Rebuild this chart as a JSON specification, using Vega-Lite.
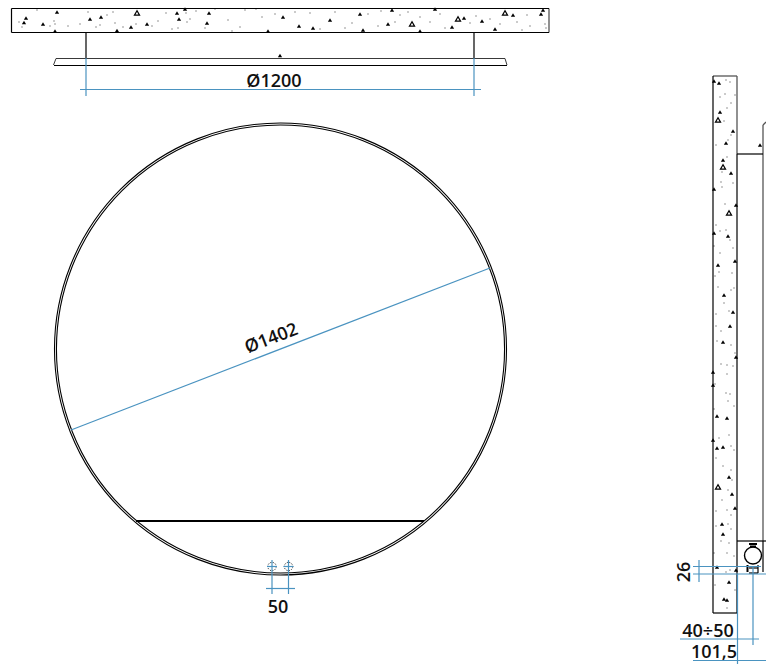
{
"$schema":"https://vega.github.io/schema/vega-lite/v6.json",
"width":766,"height":664,"padding":0,"autosize":{"type":"none"},
"background":"white",
"config":{"view":{"stroke":null}},
"encoding":{
"x":{"field":"x","type":"quantitative","scale":{"domain":[0,766],"range":[0,766],"nice":false,"zero":false},"axis":null},
"y":{"field":"y","type":"quantitative","scale":{"domain":[0,664],"range":[0,664],"nice":false,"zero":false},"axis":null}
},
"datasets":{
"segments":[
{"kind":"black","x":11.5,"y":8.5,"x2":549,"y2":8.5},
{"kind":"black","x":11.5,"y":32.5,"x2":549,"y2":32.5},
{"kind":"black","x":11.5,"y":8.5,"x2":11.5,"y2":32.5},
{"kind":"grey","x":549,"y":8.5,"x2":549,"y2":32.5},
{"kind":"black","x":86,"y":32.5,"x2":86,"y2":58.5},
{"kind":"black","x":474,"y":32.5,"x2":474,"y2":58.5},
{"kind":"thin","x":56,"y":58.5,"x2":505,"y2":58.5},
{"kind":"black","x":54,"y":65.5,"x2":507,"y2":65.5},
{"kind":"thin","x":56,"y":58.5,"x2":53.5,"y2":65},
{"kind":"thin","x":505,"y":58.5,"x2":507,"y2":65},
{"kind":"bold","x":136,"y":521,"x2":424,"y2":521},
{"kind":"black","x":713,"y":76,"x2":713,"y2":613},
{"kind":"black","x":737,"y":154,"x2":737,"y2":613},
{"kind":"grey","x":737,"y":76,"x2":737,"y2":154},
{"kind":"grey","x":713,"y":76,"x2":737,"y2":76},
{"kind":"black","x":713,"y":613,"x2":737,"y2":613},
{"kind":"black","x":737,"y":154,"x2":763,"y2":154},
{"kind":"grey","x":763,"y":125,"x2":763,"y2":541},
{"kind":"grey","x":763,"y":125,"x2":766,"y2":122},
{"kind":"black","x":737,"y":541,"x2":766,"y2":541},
{"kind":"black","x":763,"y":541,"x2":763,"y2":572},
{"kind":"bold","x":749,"y":544,"x2":757,"y2":544},
{"kind":"bold","x":750,"y":546.5,"x2":756,"y2":546.5},
{"kind":"bold","x":747.5,"y":565,"x2":747.5,"y2":572},
{"kind":"black","x":749,"y":568,"x2":758,"y2":568},
{"kind":"black","x":749,"y":573,"x2":758,"y2":573},
{"kind":"black","x":758,"y":565,"x2":758,"y2":573},
{"kind":"blue","x":80,"y":89.5,"x2":481,"y2":89.5},
{"kind":"blue","x":86,"y":58,"x2":86,"y2":96},
{"kind":"blue","x":474,"y":58,"x2":474,"y2":96},
{"kind":"blue","x":71,"y":430,"x2":490,"y2":268},
{"kind":"blue","x":272,"y":560,"x2":272,"y2":594},
{"kind":"blue","x":288.5,"y":560,"x2":288.5,"y2":594},
{"kind":"blue","x":266,"y":588.5,"x2":295,"y2":588.5},
{"kind":"blue","x":267,"y":566.5,"x2":277,"y2":566.5},
{"kind":"blue","x":283.5,"y":566.5,"x2":293.5,"y2":566.5},
{"kind":"blue","x":693,"y":566.5,"x2":761,"y2":566.5},
{"kind":"blue","x":693,"y":574,"x2":766,"y2":574},
{"kind":"blue","x":699,"y":560,"x2":699,"y2":582},
{"kind":"blue","x":737.5,"y":574,"x2":737.5,"y2":664},
{"kind":"blue","x":753,"y":566,"x2":753,"y2":645},
{"kind":"blue","x":680,"y":639,"x2":759,"y2":639},
{"kind":"blue","x":693,"y":660.5,"x2":766,"y2":660.5}
],
"rings":[{"x":280.5,"y":349,"part":"outer"}],
"fitting":[{"x":753,"y":555.5}],
"holes":[{"x":272,"y":566.5},{"x":288.5,"y":566.5}],
"rocks":[
{"x":26,"y":18},{"x":24,"y":22.5},{"x":57,"y":12},{"x":43,"y":24},{"x":55,"y":31},{"x":90,"y":19},{"x":101,"y":17},{"x":117,"y":30.5},{"x":131,"y":27},{"x":147,"y":24},{"x":177,"y":13},{"x":179,"y":19},{"x":185,"y":9},{"x":209,"y":13},{"x":207,"y":23},{"x":268,"y":31},{"x":283,"y":17},{"x":299,"y":26},{"x":313,"y":28},{"x":330,"y":20},{"x":360,"y":14},{"x":363,"y":30},{"x":388,"y":24},{"x":392,"y":10},{"x":435,"y":9},{"x":420,"y":31},{"x":452,"y":27},{"x":464,"y":18},{"x":482,"y":21},{"x":495,"y":29},{"x":513,"y":15},{"x":541,"y":14},{"x":543,"y":10},{"x":280,"y":55.5},
{"x":714,"y":81},{"x":719,"y":83},{"x":720,"y":112},{"x":733,"y":131},{"x":726,"y":143},{"x":723,"y":160},{"x":731,"y":173},{"x":714,"y":189},{"x":736,"y":205},{"x":714,"y":233},{"x":728,"y":236},{"x":735,"y":261},{"x":718,"y":265},{"x":724,"y":295},{"x":733,"y":312},{"x":730,"y":326},{"x":723,"y":342},{"x":736,"y":357},{"x":713,"y":372},{"x":713,"y":385},{"x":717,"y":416},{"x":727,"y":418},{"x":713,"y":440},{"x":717,"y":448},{"x":723,"y":447},{"x":729,"y":477},{"x":732,"y":494},{"x":735,"y":508},{"x":722,"y":524},{"x":723,"y":534},{"x":717,"y":567},{"x":736,"y":570},{"x":729,"y":582},{"x":724,"y":599},{"x":727,"y":600},{"x":760,"y":145}
],
"hollow":[{"x":137,"y":13},{"x":458,"y":19},{"x":412,"y":24},{"x":505,"y":13},{"x":718,"y":120},{"x":723,"y":167},{"x":729,"y":213},{"x":718,"y":487}],
"specks":[
{"x":19,"y":22},{"x":37,"y":10},{"x":22,"y":27},{"x":50,"y":26},{"x":54,"y":21},{"x":55,"y":24},{"x":68,"y":26},{"x":80,"y":24},{"x":88,"y":12},{"x":96,"y":27},{"x":100,"y":25},{"x":107,"y":15},{"x":113,"y":12},{"x":115,"y":23},{"x":123,"y":27},{"x":136,"y":24},{"x":152,"y":26},{"x":158,"y":21},{"x":166,"y":13},{"x":172,"y":29},{"x":178,"y":28},{"x":186,"y":13},{"x":187,"y":22},{"x":190,"y":19},{"x":196,"y":11},{"x":205,"y":28},{"x":215,"y":9},{"x":228,"y":20},{"x":232,"y":31},{"x":240,"y":27},{"x":245,"y":10},{"x":256,"y":9},{"x":262,"y":17},{"x":275,"y":14},{"x":295,"y":12},{"x":310,"y":13},{"x":320,"y":29},{"x":335,"y":12},{"x":345,"y":28},{"x":352,"y":23},{"x":368,"y":14},{"x":378,"y":26},{"x":381,"y":11},{"x":395,"y":22},{"x":400,"y":15},{"x":408,"y":12},{"x":420,"y":17},{"x":430,"y":22},{"x":440,"y":14},{"x":445,"y":28},{"x":470,"y":23},{"x":476,"y":16},{"x":490,"y":19},{"x":500,"y":24},{"x":517,"y":22},{"x":522,"y":30},{"x":527,"y":15},{"x":530,"y":26},{"x":545,"y":24},{"x":546,"y":28},
{"x":726,"y":80},{"x":730,"y":82},{"x":725,"y":94},{"x":720,"y":97},{"x":735,"y":95},{"x":731,"y":103},{"x":727,"y":108},{"x":724,"y":121},{"x":731,"y":135},{"x":716,"y":145},{"x":728,"y":140},{"x":727,"y":157},{"x":722,"y":172},{"x":721,"y":182},{"x":733,"y":183},{"x":722,"y":187},{"x":725,"y":204},{"x":716,"y":225},{"x":720,"y":231},{"x":726,"y":230},{"x":730,"y":240},{"x":714,"y":246},{"x":720,"y":253},{"x":733,"y":248},{"x":719,"y":272},{"x":732,"y":273},{"x":715,"y":276},{"x":718,"y":287},{"x":731,"y":290},{"x":734,"y":288},{"x":724,"y":303},{"x":716,"y":314},{"x":729,"y":311},{"x":716,"y":326},{"x":721,"y":331},{"x":717,"y":341},{"x":731,"y":345},{"x":735,"y":353},{"x":727,"y":365},{"x":721,"y":364},{"x":733,"y":366},{"x":727,"y":374},{"x":715,"y":384},{"x":726,"y":393},{"x":730,"y":394},{"x":728,"y":401},{"x":714,"y":409},{"x":734,"y":406},{"x":719,"y":438},{"x":729,"y":435},{"x":731,"y":446},{"x":734,"y":450},{"x":716,"y":458},{"x":723,"y":466},{"x":731,"y":470},{"x":732,"y":480},{"x":728,"y":490},{"x":722,"y":500},{"x":716,"y":511},{"x":727,"y":510},{"x":731,"y":515},{"x":716,"y":526},{"x":728,"y":524},{"x":731,"y":529},{"x":721,"y":541},{"x":729,"y":543},{"x":727,"y":553},{"x":714,"y":553},{"x":734,"y":556},{"x":726,"y":572},{"x":730,"y":570},{"x":715,"y":585},{"x":735,"y":590},{"x":727,"y":608}
],
"labels":[
{"label":"Ø1200","x":274,"y":81.5,"dir":"flat"},
{"label":"50","x":278,"y":607.5,"dir":"flat"},
{"label":"40÷50","x":708,"y":632,"dir":"flat"},
{"label":"101,5","x":714,"y":653,"dir":"flat"},
{"label":"Ø1402","x":271.5,"y":339,"dir":"diag"},
{"label":"26","x":684.5,"y":572,"dir":"up"}
]
},
"layer":[
{"data":{"name":"specks"},"mark":{"type":"point","shape":"square","filled":true,"size":1.5,"color":"#444444","opacity":0.9}},
{"data":{"name":"rocks"},"mark":{"type":"point","shape":"triangle-up","filled":true,"size":18,"color":"#000000","opacity":1}},
{"data":{"name":"hollow"},"mark":{"type":"point","shape":"triangle-up","filled":false,"size":26,"strokeWidth":1.2,"color":"#000000","opacity":1}},
{"data":{"name":"rings"},"mark":{"type":"point","shape":"circle","filled":false,"size":204304,"strokeWidth":1.1,"color":"#000000","opacity":1}},
{"data":{"name":"rings"},"mark":{"type":"point","shape":"circle","filled":false,"size":200800,"strokeWidth":1.1,"color":"#000000","opacity":1}},
{"data":{"name":"holes"},"mark":{"type":"point","shape":"circle","filled":false,"size":70,"strokeWidth":1,"strokeDash":[1,1.5],"color":"#000000","opacity":1}},
{"data":{"name":"fitting"},"mark":{"type":"point","shape":"circle","filled":true,"fill":"white","stroke":"#000000","size":289,"strokeWidth":1.4,"opacity":1}},
{"data":{"name":"segments"},"transform":[{"filter":"datum.kind=='grey'"}],"mark":{"type":"rule","color":"#555555","strokeWidth":1.3},"encoding":{"x2":{"field":"x2"},"y2":{"field":"y2"}}},
{"data":{"name":"segments"},"transform":[{"filter":"datum.kind=='thin'"}],"mark":{"type":"rule","color":"#222222","strokeWidth":0.9},"encoding":{"x2":{"field":"x2"},"y2":{"field":"y2"}}},
{"data":{"name":"segments"},"transform":[{"filter":"datum.kind=='black'"}],"mark":{"type":"rule","color":"#000000","strokeWidth":1.2},"encoding":{"x2":{"field":"x2"},"y2":{"field":"y2"}}},
{"data":{"name":"segments"},"transform":[{"filter":"datum.kind=='bold'"}],"mark":{"type":"rule","color":"#000000","strokeWidth":2},"encoding":{"x2":{"field":"x2"},"y2":{"field":"y2"}}},
{"data":{"name":"segments"},"transform":[{"filter":"datum.kind=='blue'"}],"mark":{"type":"rule","color":"#4a93c0","strokeWidth":1.2},"encoding":{"x2":{"field":"x2"},"y2":{"field":"y2"}}},
{"data":{"name":"labels"},"transform":[{"filter":"datum.dir=='flat'"}],"mark":{"type":"text","font":"Open Sans","fontSize":18,"fontWeight":600,"color":"#111111","align":"center","baseline":"middle"},"encoding":{"text":{"field":"label"}}},
{"data":{"name":"labels"},"transform":[{"filter":"datum.dir=='diag'"}],"mark":{"type":"text","font":"Open Sans","fontSize":18,"fontWeight":600,"color":"#111111","align":"center","baseline":"middle","angle":339},"encoding":{"text":{"field":"label"}}},
{"data":{"name":"labels"},"transform":[{"filter":"datum.dir=='up'"}],"mark":{"type":"text","font":"Open Sans","fontSize":18,"fontWeight":600,"color":"#111111","align":"center","baseline":"middle","angle":270},"encoding":{"text":{"field":"label"}}}
]
}
